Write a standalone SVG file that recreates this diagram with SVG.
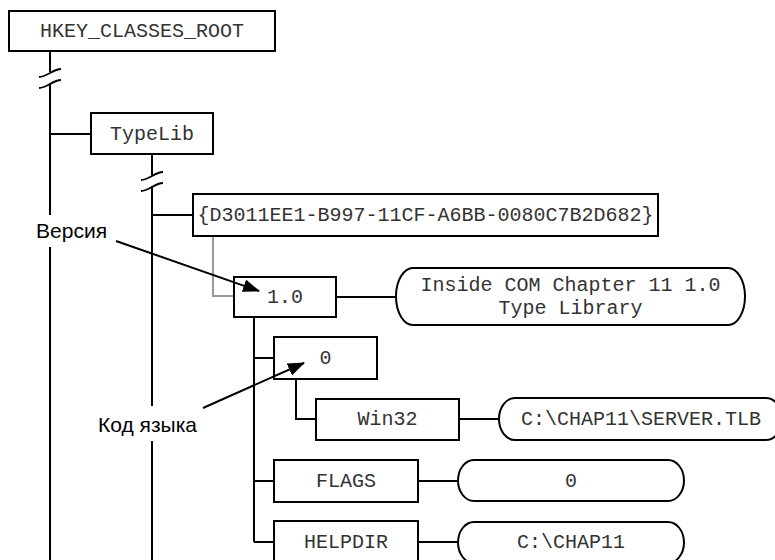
<svg xmlns="http://www.w3.org/2000/svg" width="775" height="560" viewBox="0 0 775 560">
<style>
.box{fill:#fff;stroke:#000;stroke-width:2}
.ln{fill:none;stroke:#000;stroke-width:2}
.gr{fill:none;stroke:#999;stroke-width:2}
.t{font-family:"Liberation Mono","Courier New",monospace;font-size:20px;fill:#333;text-anchor:middle}
.lab{font-family:"Liberation Sans",Arial,sans-serif;font-size:21px;fill:#000;text-anchor:end}
</style>
<defs>
<marker id="ah" markerUnits="userSpaceOnUse" markerWidth="18" markerHeight="14" refX="16" refY="6.5" orient="auto">
<path d="M0,0 L17,6.5 L0,13 Z" fill="#000"/>
</marker>
</defs>
<rect width="775" height="560" fill="#fff"/>
<g id="connectors">
<path class="ln" d="M50,51 V72 M50,83 V215 M50,247 V560"/>
<path class="ln" d="M39,77 C47,77 53,69 61,69 M39,88 C47,88 53,80 61,80"/>
<path class="ln" d="M50,134 H91"/>
<path class="ln" d="M152,154 V175 M152,186 V406 M152,441 V560"/>
<path class="ln" d="M141,180 C149,180 155,172 163,172 M141,191 C149,191 155,183 163,183"/>
<path class="ln" d="M152,215 H193"/>
<path class="gr" d="M213,236 V296 H234"/>
<path class="ln" d="M336,297 H396"/>
<path class="ln" d="M254,317 V542 M254,358 H274 M254,481 H274 M254,542 H274"/>
<path class="ln" d="M296,379 V419 H316"/>
<path class="ln" d="M459,419 H499"/>
<path class="ln" d="M418,481 H458"/>
<path class="ln" d="M418,542 H458"/>
</g>
<g id="hkcr"><rect class="box" x="9" y="11" width="266" height="40"/><text class="t" x="142" y="37">HKEY_CLASSES_ROOT</text></g>
<g id="typelib"><rect class="box" x="91" y="113" width="122" height="41"/><text class="t" x="152" y="140">TypeLib</text></g>
<g id="guid"><rect class="box" x="193" y="194" width="465" height="42"/><text class="t" x="425.5" y="221">{D3011EE1-B997-11CF-A6BB-0080C7B2D682}</text></g>
<g id="ver"><rect class="box" x="234" y="277" width="102" height="40"/><text class="t" x="285" y="303">1.0</text></g>
<g id="verval"><rect class="box" x="396" y="268" width="349" height="57" rx="17" ry="28.5"/><text class="t" x="570.5" y="291">Inside COM Chapter 11 1.0</text><text class="t" x="570.5" y="314">Type Library</text></g>
<g id="lcid"><rect class="box" x="274" y="337" width="103" height="42"/><text class="t" x="325.5" y="364">0</text></g>
<g id="win32"><rect class="box" x="316" y="399" width="143" height="41"/><text class="t" x="387.5" y="425">Win32</text></g>
<g id="win32val"><rect class="box" x="499" y="398" width="283" height="42" rx="16" ry="21"/><text class="t" x="641" y="425">C:\CHAP11\SERVER.TLB</text></g>
<g id="flags"><rect class="box" x="274" y="460" width="144" height="42"/><text class="t" x="346" y="487">FLAGS</text></g>
<g id="flagsval"><rect class="box" x="458" y="460" width="226" height="41" rx="16" ry="20.5"/><text class="t" x="571" y="487">0</text></g>
<g id="helpdir"><rect class="box" x="274" y="521" width="144" height="42"/><text class="t" x="346" y="548">HELPDIR</text></g>
<g id="helpdirval"><rect class="box" x="458" y="522" width="226" height="41" rx="16" ry="20.5"/><text class="t" x="571" y="548">C:\CHAP11</text></g>
<g id="annotations">
<line class="ln" x1="116" y1="241" x2="259" y2="291" marker-end="url(#ah)"/>
<line class="ln" x1="203" y1="408" x2="304" y2="363" marker-end="url(#ah)"/>
<text class="lab" x="107" y="238">Версия</text>
<text class="lab" x="197" y="432">Код языка</text>
</g>
</svg>
